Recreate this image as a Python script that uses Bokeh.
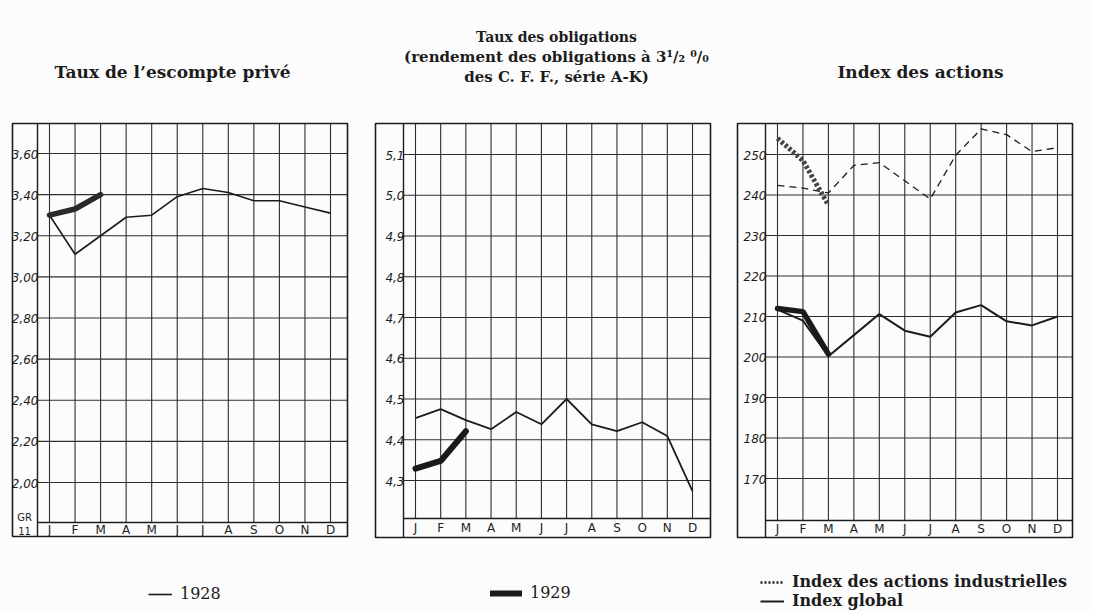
from bokeh.plotting import figure
from bokeh.layouts import row
from bokeh.models import Range1d, Label, Legend, LegendItem
from bokeh.embed import file_html
from bokeh.resources import INLINE
from bokeh.core.properties import value

# ---------------- data ----------------
months = ["J", "F", "M", "A", "M", "J", "J", "A", "S", "O", "N", "D"]
month_idx = list(range(12))

# Taux de l'escompte privé
esc_ticks = [2.00, 2.20, 2.40, 2.60, 2.80, 3.00, 3.20, 3.40, 3.60]
esc_tick_labels = ["2,00", "2,20", "2,40", "2,60", "2,80", "3,00", "3,20", "3,40", "3,60"]
esc_1928 = [3.30, 3.11, 3.20, 3.29, 3.30, 3.39, 3.43, 3.41, 3.37, 3.37, 3.34, 3.31]
esc_1929 = [3.30, 3.33, 3.40]

# Taux des obligations
obl_ticks = [4.3, 4.4, 4.5, 4.6, 4.7, 4.8, 4.9, 5.0, 5.1]
obl_tick_labels = ["4,3", "4,4", "4,5", "4,6", "4,7", "4,8", "4,9", "5,0", "5,1"]
obl_1928 = [4.453, 4.475, 4.448, 4.426, 4.468, 4.438, 4.50, 4.438, 4.421, 4.443, 4.409, 4.274]
obl_1929 = [4.329, 4.348, 4.421]

# Index des actions
act_ticks = [170, 180, 190, 200, 210, 220, 230, 240, 250]
act_tick_labels = ["170", "180", "190", "200", "210", "220", "230", "240", "250"]
ind_1928 = [242.4, 241.7, 240.5, 247.3, 248.0, 243.5, 239.0, 249.8, 256.3, 254.9, 250.7, 251.7]
ind_1929 = [254.0, 248.5, 237.5]
glob_1928 = [211.7, 209.0, 200.2, 205.4, 210.6, 206.5, 205.0, 211.0, 212.8, 208.8, 207.8, 210.0]
glob_1929 = [212.0, 211.2, 200.7]

# ---------------- style / layout ----------------
INK = "#1c1c1c"
GRID = "#2e2e2e"
PAPER = "#fcfcfc"
H = 612
SERIF = "DejaVu Serif"
HAND = "DejaVu Sans"


class Geo:
    """Maps page pixels to a panel's data space (layout only)."""
    def __init__(self, fig_x0, fig_w, px_first, px_last, py_top_tick, v_top, py_bot_tick, v_bot):
        self.x0, self.w = fig_x0, fig_w
        self.kx = (px_last - px_first) / 11.0
        self.px0 = px_first
        self.ky = (py_bot_tick - py_top_tick) / (v_top - v_bot)
        self.pyt, self.vt = py_top_tick, v_top

    def dx(self, wx):
        return (wx - self.px0) / self.kx

    def dy(self, wy):
        return self.vt + (self.pyt - wy) / self.ky

    def xr(self):
        return Range1d(self.dx(self.x0), self.dx(self.x0 + self.w))

    def yr(self):
        return Range1d(self.dy(H), self.dy(0))


def make_panel(g, box, axis_px, strip_px, ticks, tick_labels):
    p = figure(width=g.w, height=H, x_range=g.xr(), y_range=g.yr(),
               x_axis_location=None, y_axis_location=None, toolbar_location=None,
               output_backend="svg", min_border=0)
    p.xgrid.visible = False
    p.ygrid.visible = False
    p.background_fill_color = PAPER
    p.border_fill_color = PAPER
    p.outline_line_color = None
    L, R, T, B = g.dx(box[0]), g.dx(box[1]), g.dy(box[2]), g.dy(box[3])
    ax, sy = g.dx(axis_px), g.dy(strip_px)
    n = len(ticks)
    p.segment(x0=[ax] * n, y0=ticks, x1=[R] * n, y1=ticks, line_color=GRID, line_width=1.1)
    p.segment(x0=month_idx, y0=[sy] * 12, x1=month_idx, y1=[T] * 12,
              line_color=GRID, line_width=1.1)
    p.segment(x0=[ax, ax], y0=[B, sy], x1=[ax, R], y1=[T, sy], line_color=INK, line_width=1.4)
    p.quad(left=[L], right=[R], top=[T], bottom=[B], fill_color=None,
           line_color=INK, line_width=1.6)
    p.text(x=[ax] * n, y=ticks, text=tick_labels, text_align="right",
           text_baseline="bottom", x_offset=1, y_offset=5,
           text_font=value(HAND), text_font_style="italic", text_font_size="12px",
           text_color=INK)
    p.text(x=month_idx, y=[(sy + B) / 2] * 12, text=months,
           text_align="center", text_baseline="middle",
           text_font=value(HAND), text_font_size="12px", text_color=INK)
    return p


def put(p, g, wx, wy, text, size="15px", style="bold"):
    p.add_layout(Label(x=g.dx(wx), y=g.dy(wy), text=text, text_align="center",
                       text_baseline="middle", text_font=SERIF,
                       text_font_size=size, text_font_style=style, text_color=INK))


def legend(p, g, items, wx, wy_bottom, size="16px", style="normal", glyph_w=24):
    lg = Legend(items=items, location=(wx - g.x0, H - wy_bottom), orientation="vertical",
                padding=0, margin=0, spacing=0, glyph_width=glyph_w, glyph_height=18,
                label_standoff=8, label_height=19, border_line_color=None,
                background_fill_alpha=0, label_text_font=SERIF,
                label_text_font_size=size, label_text_font_style=style,
                label_text_color=INK)
    p.add_layout(lg, "center")


# ---- panel 1 ----
g1 = Geo(0, 370, 49, 330, 153, 3.60, 482, 2.00)
p1 = make_panel(g1, (12, 347, 123, 536), 37, 522, esc_ticks, esc_tick_labels)
r1928 = p1.line(month_idx, esc_1928, line_color=INK, line_width=1.6)
p1.line(month_idx[:3], esc_1929, line_color="#2a2a2a", line_width=5.5, line_cap="round")
p1.text(x=[g1.dx(24), g1.dx(24)], y=[g1.dy(517), g1.dy(530)], text=["GR", "11"],
        text_align="center", text_baseline="middle", text_font=value(HAND),
        text_font_size="10px", text_color=INK)
put(p1, g1, 172, 71, "Taux de l’escompte privé", size="17px")
legend(p1, g1, [LegendItem(label="1928", renderers=[r1928])], 148, 603)

# ---- panel 2 ----
g2 = Geo(370, 362, 415, 692, 154, 5.1, 480, 4.3)
p2 = make_panel(g2, (375, 710, 123, 537), 403, 518, obl_ticks, obl_tick_labels)
p2.line(month_idx, obl_1928, line_color=INK, line_width=1.8)
r1929 = p2.line(month_idx[:3], obl_1929, line_color="#1a1a1a", line_width=6, line_cap="round")
put(p2, g2, 556, 36, "Taux des obligations", size="14px")
put(p2, g2, 556, 56, "(rendement des obligations à 3¹/₂ ⁰/₀", size="15px")
put(p2, g2, 556, 76, "des C. F. F., série A-K)", size="15px")
legend(p2, g2, [LegendItem(label="1929", renderers=[r1929])], 490, 602, glyph_w=32)

# ---- panel 3 ----
g3 = Geo(732, 360, 777, 1057, 154, 250, 478, 170)
p3 = make_panel(g3, (737, 1072, 123, 537), 765, 520, act_ticks, act_tick_labels)
p3.line(month_idx, ind_1928, line_color=INK, line_width=1.3, line_dash="7 5")
p3.line(month_idx[:3], ind_1929, line_color="#444444", line_width=5, line_dash="3 2")
rglob = p3.line(month_idx, glob_1928, line_color=INK, line_width=2.0)
p3.line(month_idx[:3], glob_1929, line_color="#1a1a1a", line_width=5.5, line_cap="round")
# legend key only (same series, dotted style as printed in the key)
rdot = p3.line(month_idx, ind_1928, line_color=INK, line_width=2.4, line_dash="2 2",
               visible=False)
put(p3, g3, 920, 71, "Index des actions", size="17px")
legend(p3, g3, [LegendItem(label="Index des actions industrielles", renderers=[rdot]),
                LegendItem(label="Index global", renderers=[rglob])],
       760, 610, size="16px", style="bold")

layout = row(p1, p2, p3, spacing=0)
open("out.html", "w").write(file_html(layout, INLINE))
